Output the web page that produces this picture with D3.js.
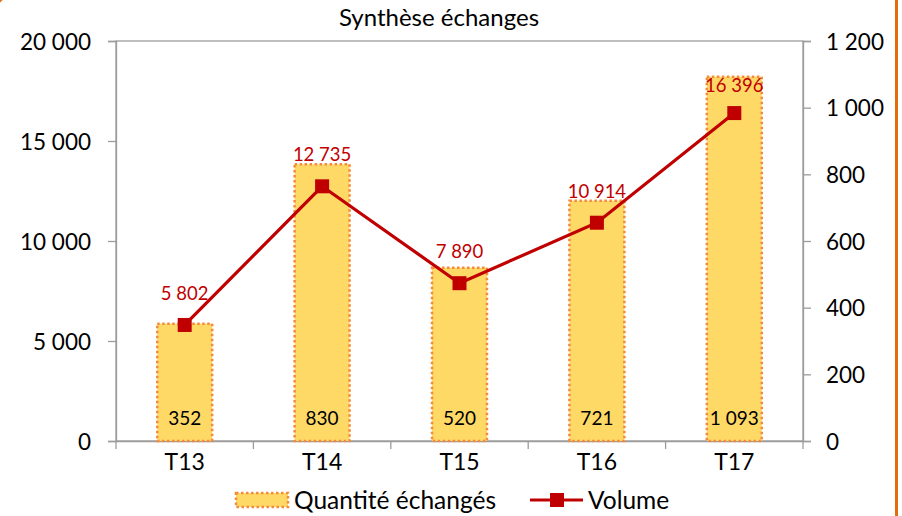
<!DOCTYPE html>
<html>
<head>
<meta charset="utf-8">
<script src="https://cdn.jsdelivr.net/npm/d3@7"></script>
<style>
  body { margin: 0; background: #fff; }
  svg { display: block; font-family: Lato, "Open Sans", sans-serif; }
</style>
</head>
<body>
<div id="chart"></div>
<script>
// chart data
var categories = ["T13", "T14", "T15", "T16", "T17"];
var barValues = [352, 830, 520, 721, 1093];          // drawn on the right axis
var lineValues = [5802, 12735, 7890, 10914, 16396];  // drawn on the left axis
var leftTicks = [0, 5000, 10000, 15000, 20000];
var rightTicks = [0, 200, 400, 600, 800, 1000, 1200];
var seriesNames = ["Quantité échangés", "Volume"];

var width = 902, height = 516;
var margin = { top: 41, right: 99, bottom: 75, left: 116 };
var axisGrey = "#9c9c9c";
var red = "#c00000";
var orange = "#e46c0a";
var barFill = "#ffd966", barEdge = "#f58a3c";

var svg = d3.select("#chart").append("svg")
  .attr("width", width)
  .attr("height", height);

// bits of the orange sheet frame: right edge + top-left corner
svg.append("line")
  .attr("x1", 896.5).attr("x2", 896.5)
  .attr("y1", 0).attr("y2", height)
  .attr("stroke", orange).attr("stroke-width", 3);
svg.append("path")
  .attr("d", "M-3,8 A11,11 0 0 1 8,-3")
  .attr("fill", "none")
  .attr("stroke", orange).attr("stroke-width", 3);

var x = d3.scaleBand()
  .domain(categories)
  .range([margin.left, width - margin.right])
  .paddingInner(0.6)
  .paddingOuter(0.3);

var yL = d3.scaleLinear().domain([0, 20000]).range([height - margin.bottom, margin.top]);
var yR = d3.scaleLinear().domain([0, 1200]).range([height - margin.bottom, margin.top]);

// french number format, space as thousands separator
var fmt = d3.formatLocale({ decimal: ",", thousands: "\u00a0", grouping: [3], currency: ["", "€"] }).format(",d");

// plot area border
svg.append("rect")
  .attr("x", margin.left).attr("y", margin.top)
  .attr("width", width - margin.left - margin.right)
  .attr("height", height - margin.top - margin.bottom)
  .attr("fill", "none")
  .attr("stroke", axisGrey)
  .attr("stroke-width", 1.3);

// axes
var leftAxis = svg.append("g")
  .attr("transform", "translate(" + margin.left + ",0)")
  .call(d3.axisLeft(yL).tickValues(leftTicks).tickFormat(fmt).tickSize(8).tickPadding(17));

var rightAxis = svg.append("g")
  .attr("transform", "translate(" + (width - margin.right) + ",0)")
  .call(d3.axisRight(yR).tickValues(rightTicks).tickFormat(fmt).tickSize(8).tickPadding(15));

var bottomAxis = svg.append("g")
  .attr("transform", "translate(0," + (height - margin.bottom) + ")")
  .call(d3.axisBottom(x).tickSize(0).tickPadding(13));

// category separators on the x axis
var step = x.step();
bottomAxis.selectAll(".sep")
  .data(d3.range(categories.length + 1))
  .enter().append("line")
  .attr("class", "sep")
  .attr("x1", function(i) { return margin.left + i * step; })
  .attr("x2", function(i) { return margin.left + i * step; })
  .attr("y1", 0).attr("y2", 8)
  .attr("stroke", axisGrey).attr("stroke-width", 1.3);

[leftAxis, rightAxis, bottomAxis].forEach(function(a) {
  a.selectAll(".domain").attr("stroke", axisGrey).attr("stroke-width", 1.3);
  a.selectAll(".tick line").attr("stroke", axisGrey).attr("stroke-width", 1.3);
  a.selectAll("text").attr("fill", "#000").style("font-size", "22.5px").style("font-family", "Lato, sans-serif");
});
bottomAxis.selectAll("text").style("font-size", "23px");
leftAxis.selectAll("text").attr("dy", "0.36em");
rightAxis.selectAll("text").attr("dy", "0.36em");

// bars
svg.selectAll(".bar")
  .data(barValues)
  .enter().append("rect")
  .attr("class", "bar")
  .attr("x", function(d, i) { return x(categories[i]); })
  .attr("y", function(d) { return yR(d); })
  .attr("width", x.bandwidth())
  .attr("height", function(d) { return yR(0) - yR(d); })
  .attr("fill", barFill)
  .attr("stroke", barEdge)
  .attr("stroke-width", 2.5)
  .attr("stroke-dasharray", "2.5,2.5");

// black labels at the bottom of the bars
svg.selectAll(".barlabel")
  .data(barValues)
  .enter().append("text")
  .attr("class", "barlabel")
  .attr("x", function(d, i) { return x(categories[i]) + x.bandwidth() / 2; })
  .attr("y", yR(0) - 16)
  .attr("text-anchor", "middle")
  .style("font-size", "19px")
  .text(function(d) { return fmt(d); });

// red labels: above the point / bar top, whichever is higher, kept inside the plot
svg.selectAll(".toplabel")
  .data(lineValues)
  .enter().append("text")
  .attr("class", "toplabel")
  .attr("x", function(d, i) { return x(categories[i]) + x.bandwidth() / 2; })
  .attr("y", function(d, i) {
    var yy = Math.min(yR(barValues[i]) - 2, yL(d) - 25);
    return Math.max(yy, yR(1050) + 1);
  })
  .attr("text-anchor", "middle")
  .attr("fill", red)
  .style("font-size", "18.5px")
  .text(function(d) { return fmt(d); });

// line
var line = d3.line()
  .x(function(d, i) { return x(categories[i]) + x.bandwidth() / 2; })
  .y(function(d) { return yL(d); });

svg.append("path")
  .datum(lineValues)
  .attr("d", line)
  .attr("fill", "none")
  .attr("stroke", red)
  .attr("stroke-width", 3.2);

svg.selectAll(".marker")
  .data(lineValues)
  .enter().append("rect")
  .attr("class", "marker")
  .attr("x", function(d, i) { return x(categories[i]) + x.bandwidth() / 2 - 7; })
  .attr("y", function(d) { return yL(d) - 7; })
  .attr("width", 14).attr("height", 14)
  .attr("fill", red);

// title
svg.append("text")
  .attr("x", 439).attr("y", 26)
  .attr("text-anchor", "middle")
  .style("font-size", "24px")
  .text("Synthèse échanges");

// legend
var lg = svg.append("g").attr("transform", "translate(0,500)");
lg.append("rect")
  .attr("x", 236).attr("y", -7)
  .attr("width", 52).attr("height", 14)
  .attr("fill", barFill)
  .attr("stroke", barEdge)
  .attr("stroke-width", 2.5)
  .attr("stroke-dasharray", "2.5,2.5");
lg.append("text")
  .attr("x", 294).attr("y", 0).attr("dy", "0.36em")
  .style("font-size", "24.5px")
  .text(seriesNames[0]);
lg.append("line")
  .attr("x1", 530).attr("x2", 583)
  .attr("y1", 0).attr("y2", 0)
  .attr("stroke", red).attr("stroke-width", 3.2);
lg.append("rect")
  .attr("x", 550).attr("y", -7)
  .attr("width", 14).attr("height", 14)
  .attr("fill", red);
lg.append("text")
  .attr("x", 588).attr("y", 0).attr("dy", "0.36em")
  .style("font-size", "24.5px")
  .text(seriesNames[1]);
</script>
</body>
</html>
